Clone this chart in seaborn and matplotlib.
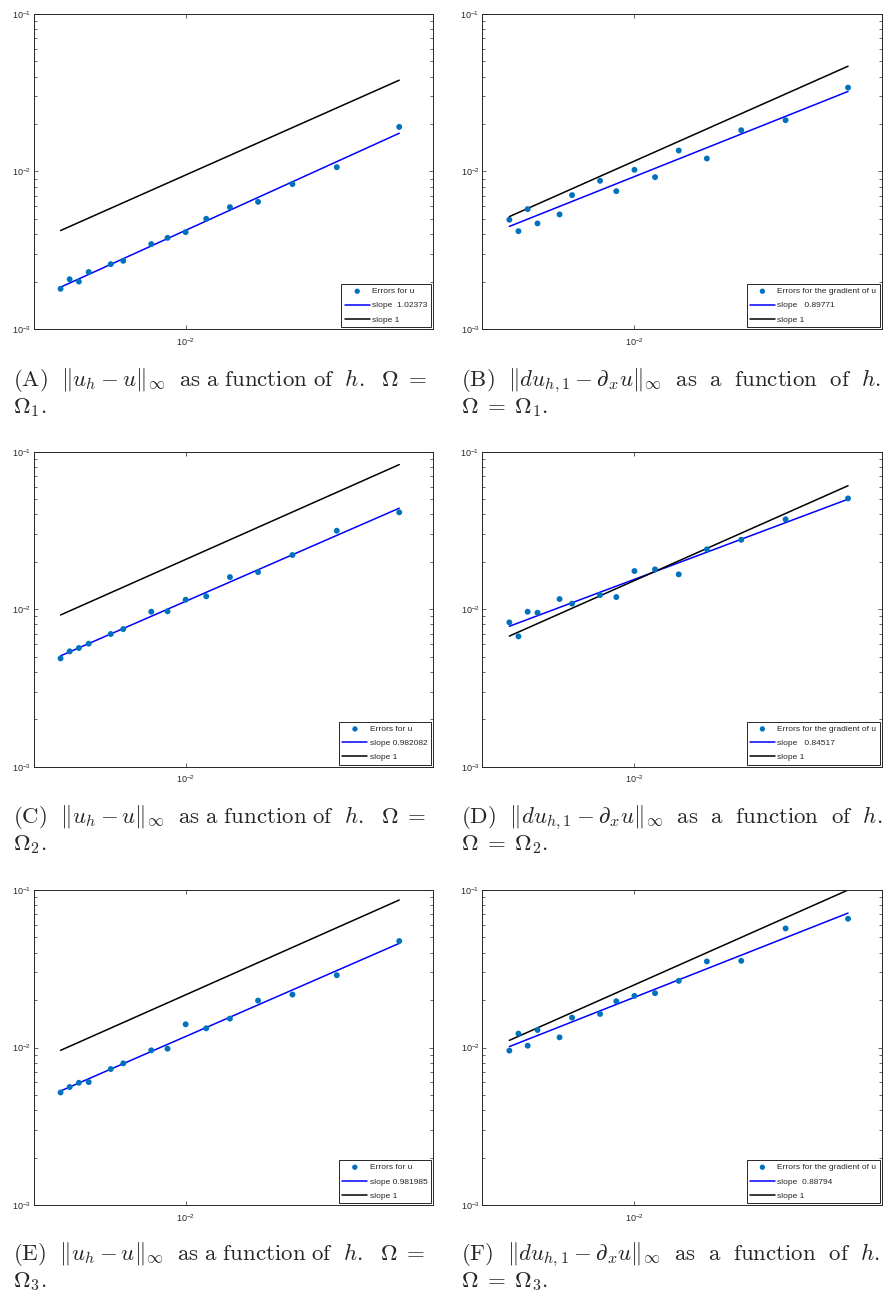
import numpy as np
import matplotlib
matplotlib.use("Agg")
import matplotlib.pyplot as plt
import seaborn as sns
from matplotlib.ticker import LogLocator, NullLocator, NullFormatter

# mesh sizes h (ascending), shared by every panel
h = [0.00444, 0.00471, 0.005, 0.00533, 0.00615, 0.00667, 0.008, 0.00889,
     0.01, 0.01143, 0.01333, 0.016, 0.02, 0.02667, 0.04]

# measured errors per panel (A..F)
err_a = [0.00180, 0.00207, 0.00200, 0.00230, 0.00258, 0.00271, 0.00346, 0.00379,
         0.00412, 0.00501, 0.00594, 0.00642, 0.00832, 0.01065, 0.0192]
err_b = [0.00494, 0.00418, 0.00577, 0.00468, 0.00534, 0.00708, 0.00873, 0.00750,
         0.01025, 0.00921, 0.01359, 0.01209, 0.01829, 0.02117, 0.0341]
err_c = [0.00487, 0.00540, 0.00567, 0.00604, 0.00696, 0.00748, 0.00964, 0.00969,
         0.01149, 0.01207, 0.0160, 0.0172, 0.02208, 0.0315, 0.0412]
err_d = [0.00825, 0.00672, 0.00964, 0.00950, 0.0116, 0.01084, 0.01230, 0.01194,
         0.01747, 0.0179, 0.01664, 0.0240, 0.0276, 0.0372, 0.0505]
err_e = [0.00518, 0.00561, 0.00597, 0.00603, 0.00730, 0.00793, 0.00959, 0.00983,
         0.01404, 0.01324, 0.01526, 0.01986, 0.02169, 0.02878, 0.0474]
err_f = [0.00955, 0.01225, 0.01027, 0.01292, 0.0116, 0.01548, 0.01633, 0.01966,
         0.02127, 0.02212, 0.02649, 0.0352, 0.0355, 0.0570, 0.0657]

# fitted slopes (from the legends) and constants of the slope-1 reference lines
slopes = [1.02373, 0.89771, 0.982082, 0.84517, 0.981985, 0.88794]
slope_labels = ["slope  1.02373", "slope   0.89771", "slope 0.982082",
                "slope   0.84517", "slope 0.981985", "slope  0.88794"]
ref_const = [0.95, 1.165, 2.07, 1.52, 2.16, 2.5]
err_labels = ["Errors for u", "Errors for the gradient of u"] * 3

cap_u = r"$\mathrm{(%s)}\ \ \Vert u_h - u\Vert_\infty\ \ \mathrm{as\ a\ function\ of}\ \ h.\ \ \Omega\; =$"
cap_du = r"$\mathrm{(%s)}\ \ \Vert du_{h,1} - \partial_x u\Vert_\infty\ \ \mathrm{as\ \ a\ \ function\ \ of}\ \ h.$"
captions = [
    (cap_u % "A", r"$\Omega_1.$"),
    (cap_du % "B", r"$\Omega\; =\; \Omega_1.$"),
    (cap_u % "C", r"$\Omega_2.$"),
    (cap_du % "D", r"$\Omega\; =\; \Omega_2.$"),
    (cap_u % "E", r"$\Omega_3.$"),
    (cap_du % "F", r"$\Omega\; =\; \Omega_3.$"),
]

sns.set_style("ticks")
plt.rcParams["font.family"] = ["Liberation Sans", "DejaVu Sans"]
plt.rcParams["mathtext.fontset"] = "cm"

W, H = 886, 1291
fig = plt.figure(figsize=(W / 100, H / 100), dpi=100)

col_x = [33.5, 482.3]
row_top = [14, 451.7, 890]
ax_w, ax_h = 399.5, 315
cap_x = [13, 461]
cap_base = [386, 823, 1260]

all_err = [err_a, err_b, err_c, err_d, err_e, err_f]
hx = np.array(h)
axis_col = "#262626"

for i, err in enumerate(all_err):
    r, c = divmod(i, 2)
    ax = fig.add_axes([col_x[c] / W, 1 - (row_top[r] + ax_h) / H, ax_w / W, ax_h / H])
    ax.set_xscale("log")
    ax.set_yscale("log")

    ey = np.array(err)
    b = np.mean(np.log10(ey) - slopes[i] * np.log10(hx))
    fit = 10 ** b * hx ** slopes[i]
    ref = ref_const[i] * hx

    sns.scatterplot(x=hx, y=ey, ax=ax, color="#0072BD", s=18, edgecolor="none",
                    label=err_labels[i], zorder=3)
    sns.lineplot(x=hx, y=fit, ax=ax, color="#0000FF", linewidth=1.1,
                 label=slope_labels[i], zorder=2)
    sns.lineplot(x=hx, y=ref, ax=ax, color="black", linewidth=1.1,
                 label="slope 1", zorder=2)

    ax.set_xlim(0.003725, 0.0498)
    ax.set_ylim(1e-3, 1e-1)
    ax.yaxis.set_major_locator(LogLocator(base=10))
    ax.yaxis.set_minor_locator(LogLocator(base=10, subs=np.arange(2, 10)))
    ax.yaxis.set_minor_formatter(NullFormatter())
    ax.xaxis.set_minor_locator(NullLocator())
    ax.tick_params(which="both", direction="in", top=True, right=True,
                   colors=axis_col, labelsize=6.5, width=0.5)
    ax.tick_params(which="major", length=3)
    ax.tick_params(which="minor", length=2)
    ax.tick_params(axis="x", pad=5)
    ax.tick_params(axis="y", pad=2)
    for sp in ax.spines.values():
        sp.set_color(axis_col)
        sp.set_linewidth(0.7)
    ax.set_xlabel("")
    ax.set_ylabel("")

    leg = ax.legend(loc="lower right", fontsize=6, frameon=True, fancybox=False,
                    edgecolor=axis_col, framealpha=1, borderaxespad=0.25,
                    handlelength=3.0, handletextpad=0.3, labelspacing=0.75,
                    borderpad=0.4, markerscale=0.9)
    leg.get_frame().set_linewidth(0.7)

    fig.text(cap_x[c] / W, 1 - cap_base[r] / H, captions[i][0], fontsize=16.5,
             va="baseline", ha="left")
    fig.text(cap_x[c] / W, 1 - (cap_base[r] + 27) / H, captions[i][1], fontsize=16.5,
             va="baseline", ha="left")

fig.savefig("out.png", dpi=100)
